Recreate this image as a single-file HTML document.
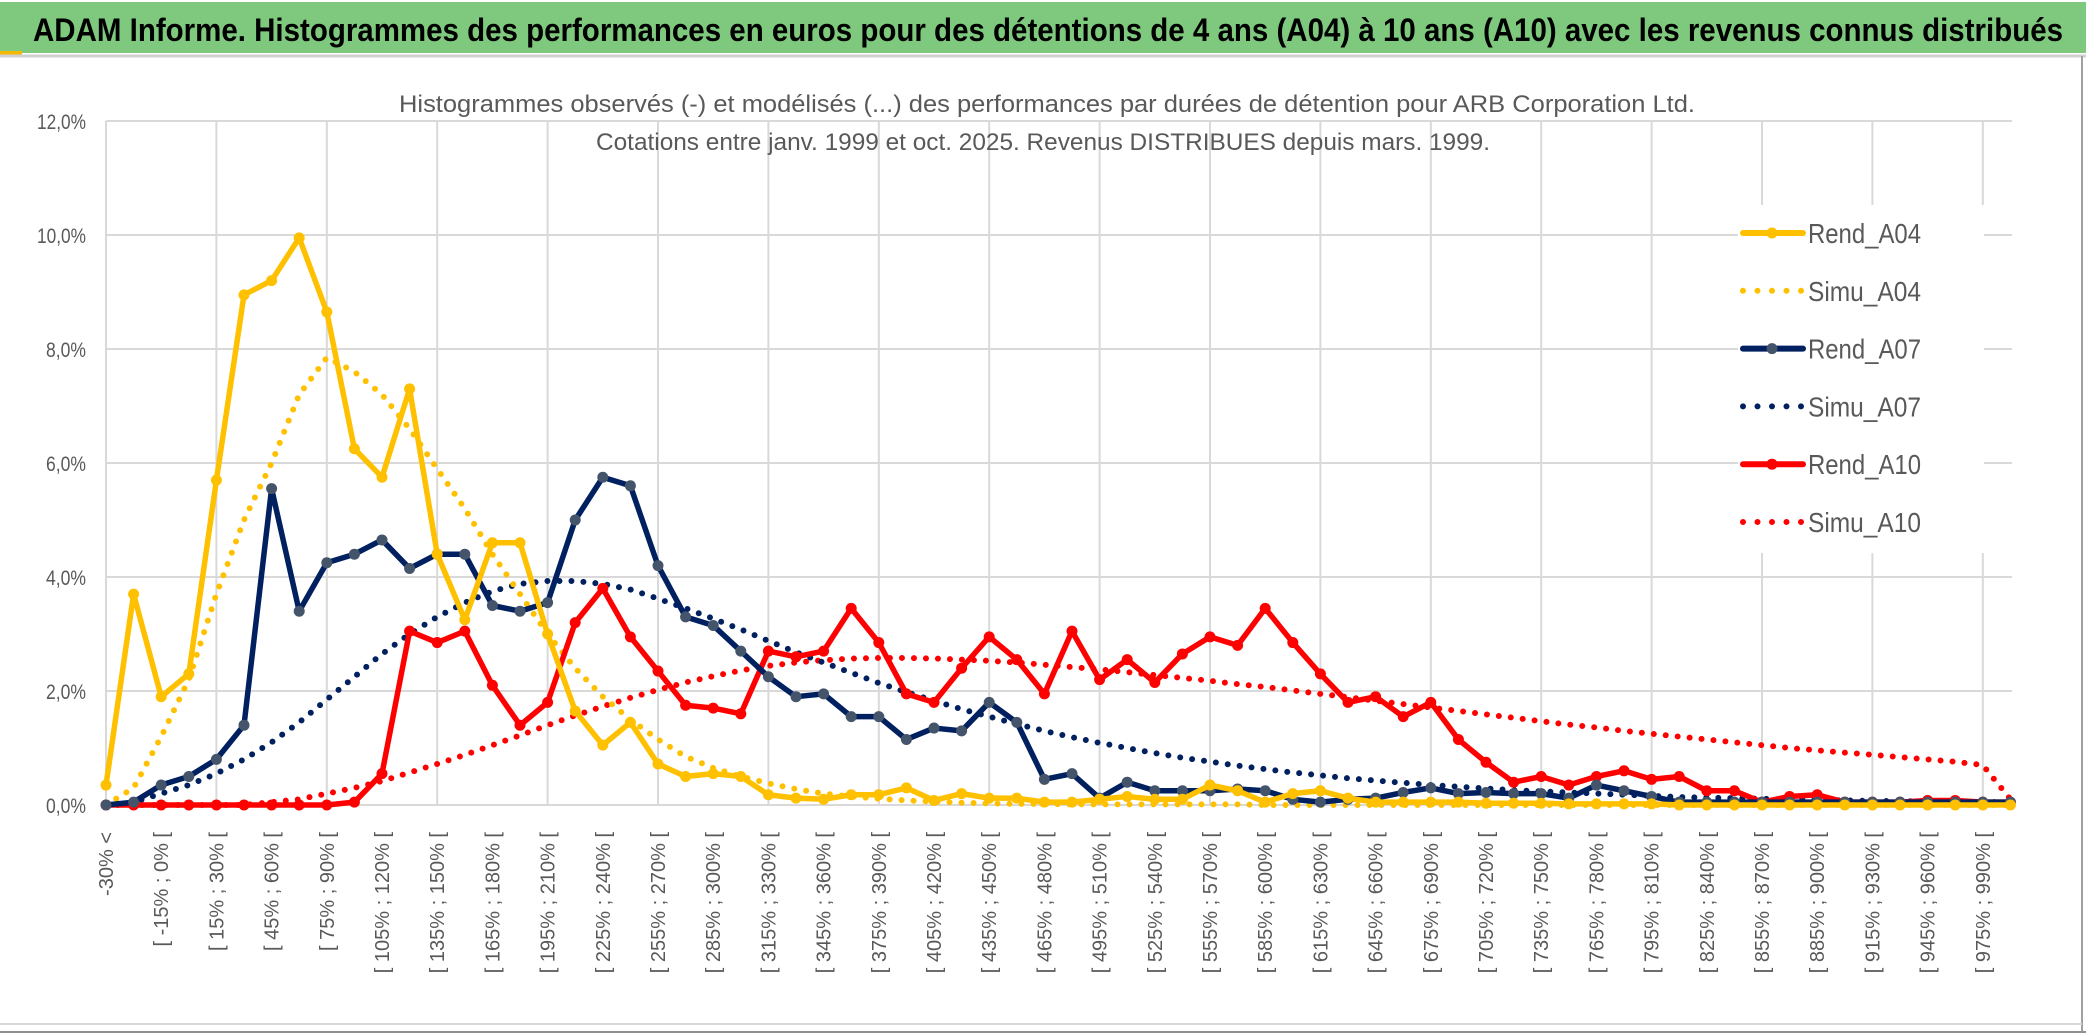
<!DOCTYPE html>
<html><head><meta charset="utf-8"><style>
html,body{margin:0;padding:0;background:#fff}
svg{display:block;font-family:"Liberation Sans",sans-serif}
</style></head><body>
<svg id="chart" width="2086" height="1033" viewBox="0 0 2086 1033" xmlns="http://www.w3.org/2000/svg">
<rect x="0" y="0" width="2086" height="1033" fill="#fff"/>
<rect x="0" y="2" width="2086" height="51" fill="#7ec97d"/>
<rect x="0" y="51" width="22" height="4" fill="#f5b800"/>
<line x1="0" y1="56" x2="2086" y2="56" stroke="#d0d0d0" stroke-width="3"/>
<text x="33" y="41" font-size="32" font-weight="bold" fill="#000" textLength="2030" lengthAdjust="spacingAndGlyphs">ADAM Informe. Histogrammes des performances en euros pour des détentions de 4 ans (A04) à 10 ans (A10) avec les revenus connus distribués</text>
<line x1="2082" y1="56" x2="2082" y2="1033" stroke="#a0a0a0" stroke-width="2"/>
<line x1="0" y1="1024" x2="2082" y2="1024" stroke="#d8d8d8" stroke-width="2"/>
<line x1="0" y1="1032" x2="2086" y2="1032" stroke="#909090" stroke-width="2"/>
<g id="grid"></g>
<g id="yticks"></g>
<g id="xticks"></g>
<rect x="1738" y="205" width="246" height="348" fill="#fff"/>
<text x="1047" y="112" font-size="24" fill="#595959" text-anchor="middle" textLength="1296" lengthAdjust="spacingAndGlyphs">Histogrammes observés (-) et modélisés (...) des performances par durées de détention pour ARB Corporation Ltd.</text>
<text x="1043" y="150" font-size="24" fill="#595959" text-anchor="middle" textLength="894" lengthAdjust="spacingAndGlyphs">Cotations entre janv. 1999 et oct. 2025. Revenus DISTRIBUES depuis mars. 1999.</text>
<g id="series"></g>
<g id="legend"></g>
</svg>
<script>
const yTicks = [0,2,4,6,8,10,12];
const yTickLabels = ["0,0%","2,0%","4,0%","6,0%","8,0%","10,0%","12,0%"];
const categories = ["-30% <"];
for (let k=-30;k<=990;k+=15) categories.push("[ "+k+"% ; "+(k+15)+"% [");
const rendA04 = [0.35,3.7,1.9,2.3,5.7,8.95,9.2,9.95,8.65,6.25,5.75,7.3,4.4,3.25,4.6,4.6,3.0,1.65,1.05,1.45,0.72,0.5,0.55,0.5,0.18,0.12,0.1,0.18,0.18,0.3,0.08,0.2,0.12,0.12,0.05,0.05,0.1,0.15,0.1,0.1,0.35,0.25,0.05,0.2,0.25,0.12,0.05,0.05,0.05,0.05,0.03,0.03,0.03,0.02,0.02,0.02,0.02,0,0,0,0,0,0,0,0,0,0,0,0,0];
const simuA04 = [0,0.3,1.2,2.2,3.7,5.0,6.0,7.2,7.85,7.6,7.2,6.6,5.9,5.2,4.4,3.7,3.0,2.4,1.9,1.5,1.15,0.85,0.65,0.5,0.38,0.28,0.2,0.15,0.11,0.08,0.06,0.04,0.03,0.02,0.02,0.01,0.01,0.01,0.01,0.01,0.01,0.01,0,0,0,0,0,0,0,0,0,0,0,0,0,0,0,0,0,0,0,0,0,0,0,0,0,0,0,0];
const rendA07 = [0,0.05,0.35,0.5,0.8,1.4,5.55,3.4,4.25,4.4,4.65,4.15,4.4,4.4,3.5,3.4,3.55,5.0,5.75,5.6,4.2,3.3,3.15,2.7,2.25,1.9,1.95,1.55,1.55,1.15,1.35,1.3,1.8,1.45,0.45,0.55,0.12,0.4,0.25,0.25,0.25,0.28,0.25,0.1,0.05,0.1,0.12,0.22,0.3,0.2,0.22,0.2,0.2,0.12,0.35,0.25,0.15,0.05,0.05,0.05,0.05,0.05,0.05,0.05,0.05,0.05,0.05,0.05,0.05,0.05];
const simuA07 = [0,0.05,0.2,0.35,0.55,0.8,1.1,1.45,1.85,2.25,2.65,3.0,3.3,3.55,3.75,3.88,3.93,3.93,3.88,3.78,3.62,3.45,3.27,3.08,2.88,2.68,2.5,2.32,2.14,1.98,1.83,1.68,1.55,1.42,1.3,1.19,1.09,1.0,0.91,0.83,0.76,0.69,0.63,0.57,0.52,0.47,0.43,0.39,0.35,0.32,0.29,0.26,0.24,0.22,0.2,0.18,0.16,0.14,0.13,0.12,0.11,0.1,0.09,0.08,0.07,0.07,0.06,0.06,0.05,0.05];
const rendA10 = [0,0,0,0,0,0,0,0,0,0.05,0.55,3.05,2.85,3.05,2.1,1.4,1.8,3.2,3.8,2.95,2.35,1.75,1.7,1.6,2.7,2.6,2.7,3.45,2.85,1.95,1.8,2.4,2.95,2.55,1.95,3.05,2.2,2.55,2.15,2.65,2.95,2.8,3.45,2.85,2.3,1.8,1.9,1.55,1.8,1.15,0.75,0.4,0.5,0.35,0.5,0.6,0.45,0.5,0.25,0.25,0.05,0.15,0.18,0.05,0.05,0.05,0.08,0.08,0.05,0.05];
const simuA10 = [0,0,0,0,0,0,0.05,0.1,0.2,0.3,0.42,0.57,0.72,0.88,1.05,1.22,1.4,1.57,1.73,1.88,2.02,2.15,2.26,2.36,2.44,2.5,2.54,2.57,2.58,2.58,2.57,2.55,2.53,2.5,2.46,2.42,2.38,2.33,2.28,2.23,2.18,2.12,2.07,2.01,1.95,1.89,1.83,1.77,1.71,1.65,1.59,1.53,1.47,1.41,1.36,1.3,1.25,1.2,1.15,1.1,1.05,1.0,0.96,0.92,0.88,0.84,0.8,0.76,0.7,0.1];

const NS="http://www.w3.org/2000/svg";
const X0=106, DX=27.6, Y0=805, YTOP=121, YMAX=12;
function xPos(i){return X0+i*DX;}
function yPos(v){return Y0-(v/YMAX)*(Y0-YTOP);}
function mk(tag,attrs,parent){const e=document.createElementNS(NS,tag);for(const k in attrs)e.setAttribute(k,attrs[k]);parent.appendChild(e);return e;}
const grid=document.getElementById('grid'), yt=document.getElementById('yticks'), xt=document.getElementById('xticks');
yTicks.forEach((t,k)=>{
  const l=mk('line',{x1:X0,x2:2012,y1:yPos(t),y2:yPos(t),stroke:'#d9d9d9','stroke-width':2},grid);
  
  
  const tx=mk('text',{x:86,y:yPos(t)+8,'font-size':21,fill:'#595959','text-anchor':'end',textLength:yTickLabels[k].length>4?49:40,lengthAdjust:'spacingAndGlyphs'},yt);
  tx.textContent=yTickLabels[k];
  
  
});
for(let i=0;i<categories.length;i+=4){
  const l=mk('line',{x1:xPos(i),x2:xPos(i),y1:YTOP,y2:Y0,stroke:'#d9d9d9','stroke-width':2},grid);
  
  
}
for(let i=0;i<categories.length;i+=2){
  const x=xPos(i)+7, y=832;
  const tx=mk('text',{x:x,y:y,'font-size':20,fill:'#595959','text-anchor':'end',transform:'rotate(-90 '+x+' '+y+')'},xt);
  tx.textContent=categories[i];
  
  
}
const ser=document.getElementById('series');
function drawLine(data,color,dotted,marker,name){
  const pts=data.map((v,i)=>xPos(i)+','+yPos(v)).join(' ');
  const g=mk('g',{},ser);
  
  
  const attrs={points:pts,fill:'none',stroke:color,'stroke-width':dotted?6:5.5,'stroke-linejoin':'round','stroke-linecap':'round'};
  if(dotted){attrs['stroke-dasharray']='0 12';}
  const p=mk('polyline',attrs,g);
  
  
  if(marker){data.forEach((v,i)=>{
    const c=mk('circle',{cx:xPos(i),cy:yPos(v),r:5.5,fill:marker},g);
    
    
  });}
}
drawLine(simuA10,'#ff0000',true,null,'simu-a10');
drawLine(simuA07,'#002060',true,null,'simu-a07');
drawLine(simuA04,'#ffc000',true,null,'simu-a04');
drawLine(rendA10,'#ff0000',false,'#ff0000','rend-a10');
drawLine(rendA07,'#002060',false,'#44546a','rend-a07');
drawLine(rendA04,'#ffc000',false,'#ffc000','rend-a04');
const leg=document.getElementById('legend');
const legendNames=["Rend_A04","Simu_A04","Rend_A07","Simu_A07","Rend_A10","Simu_A10"];
const legendColors=['#ffc000','#ffc000','#002060','#002060','#ff0000','#ff0000'];
const legendMarkers=['#ffc000',null,'#44546a',null,'#ff0000',null];
legendNames.forEach((n,k)=>{
  const y=233+k*57.8;
  const g=mk('g',{},leg);
  
  
  const dotted=(k%2===1);
  const a={x1:1743,x2:1803,y1:y,y2:y,stroke:legendColors[k],'stroke-width':6,'stroke-linecap':'round'};
  if(dotted)a['stroke-dasharray']='0 14.5';
  mk('line',a,g);
  if(legendMarkers[k])mk('circle',{cx:1772,cy:y,r:5.5,fill:legendMarkers[k]},g);
  const t=mk('text',{x:1808,y:y+10,'font-size':28,fill:'#595959',textLength:113,lengthAdjust:'spacingAndGlyphs'},g);
  t.textContent=n;
});
</script>
</body></html>
